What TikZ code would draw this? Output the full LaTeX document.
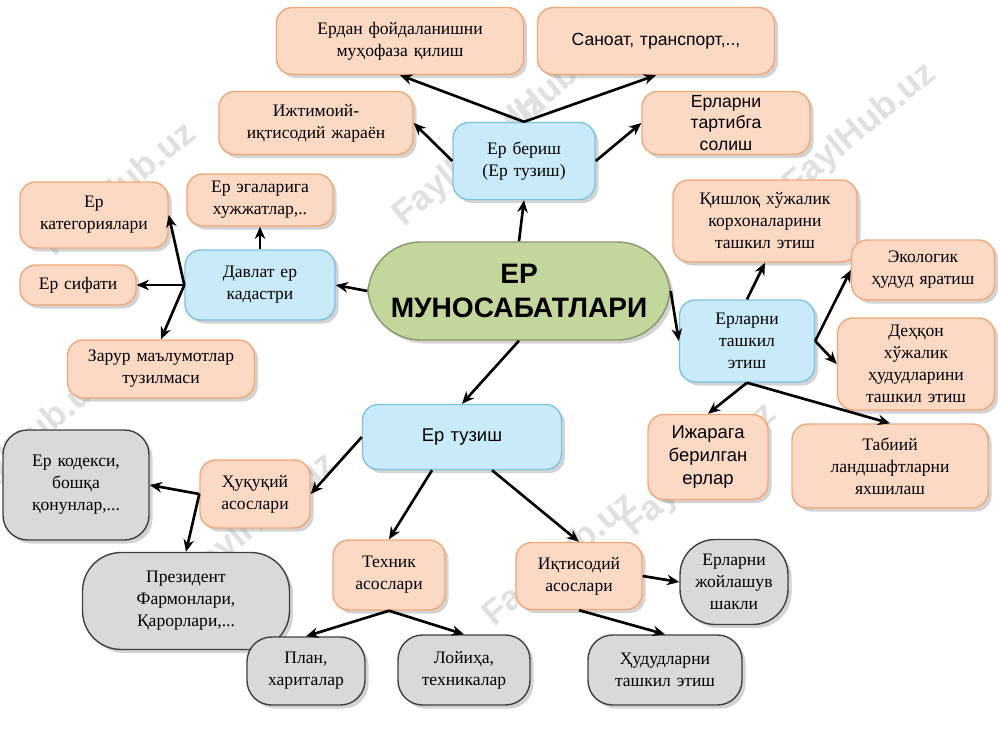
\documentclass[tikz,border=0pt]{standalone}
\usepackage{fontspec}
\setmainfont{Liberation Serif}
\setsansfont{Liberation Sans}
\usetikzlibrary{shadows,arrows.meta}
\definecolor{peach}{HTML}{FCD9C4}
\definecolor{peachd}{HTML}{F0A878}
\definecolor{bluef}{HTML}{C9EAF8}
\definecolor{blued}{HTML}{7CC4E4}
\definecolor{grayf}{HTML}{D9D9D9}
\definecolor{greenf}{HTML}{C3D69B}
\tikzset{
 bx/.style={rounded corners=9pt, align=center, inner sep=1pt, font=\fontsize{10}{12.5}\selectfont,
   drop shadow={shadow xshift=2pt,shadow yshift=-2pt,opacity=0.35}},
 pe/.style={bx, fill=peach, draw=peachd, line width=0.8pt},
 bl/.style={bx, fill=bluef, draw=blued, line width=0.8pt},
 gr/.style={bx, fill=grayf, draw=black!75, line width=0.8pt, rounded corners=14pt},
 ar/.style={-{Stealth[length=7pt,width=6pt]}, line width=1.5pt},
 wm/.style={text=black!12, font=\sffamily\bfseries\fontsize{20}{20}\selectfont, rotate=40}
}
\newcommand{\bxn}[7]{\node[#1, minimum width=#4*0.02cm, minimum height=#5*0.02cm, text width=#4*0.02cm-6pt, #7] (#2) at (#3) {#6};}
\begin{document}
\begin{tikzpicture}[x=0.02cm,y=-0.02cm]
\useasboundingbox (0,0) rectangle (1000,750);
\foreach \p in {(120,190),(470,160),(540,100),(860,130),(30,440),(260,520),(700,470),(560,560)}
  \node[wm] at \p {FaylHub.uz};
\node[bx, fill=greenf, draw=greenf!70!black, line width=0.8pt, rounded corners=30pt, minimum width=302*0.02cm, minimum height=98*0.02cm, font=\sffamily\bfseries\fontsize{16}{19}\selectfont, align=center] (c) at (519,291) {ЕР\\МУНОСАБАТЛАРИ};
\bxn{bl}{eb}{524,161}{142}{77}{Ер бериш\\(Ер тузиш)}{}
\bxn{pe}{a1}{400,41}{247}{67}{Ердан фойдаланишни\\муҳофаза қилиш}{}
\bxn{pe}{a2}{656,41}{237}{67}{Саноат, транспорт,..,}{font=\sffamily\fontsize{10}{12.5}\selectfont}
\bxn{pe}{a3}{316,123}{194}{63}{Ижтимоий-\\иқтисодий жараён}{}
\bxn{pe}{a4}{726,123}{168}{63}{Ерларни\\тартибга\\солиш}{font=\sffamily\fontsize{10}{12}\selectfont}
\bxn{bl}{dk}{260,285}{150}{70}{Давлат ер\\кадастри}{}
\bxn{pe}{d1}{94,215}{148}{66}{Ер\\категориялари}{}
\bxn{pe}{d2}{260,200}{146}{52}{Ер эгаларига\\хужжатлар,..}{}
\bxn{pe}{d3}{78,285}{116}{40}{Ер сифати}{}
\bxn{pe}{d4}{161,369}{187}{58}{Зарур маълумотлар\\тузилмаси}{}
\bxn{bl}{et}{747,341}{135}{82}{Ерларни\\ташкил\\этиш}{}
\bxn{pe}{e1}{765,221}{184}{82}{Қишлоқ хўжалик\\корхоналарини\\ташкил этиш}{}
\bxn{pe}{e2}{923,270}{143}{60}{Экологик\\ҳудуд яратиш}{}
\bxn{pe}{e3}{916,364}{157}{92}{Деҳқон\\хўжалик\\ҳудудларини\\ташкил этиш}{}
\bxn{pe}{e4}{708,457}{120}{85}{Ижарага\\берилган\\ерлар}{font=\sffamily\fontsize{10.5}{13}\selectfont}
\bxn{pe}{e5}{890,466}{196}{84}{Табиий\\ландшафтларни\\яхшилаш}{}
\bxn{bl}{tz}{462,437}{199}{65}{Ер тузиш}{font=\sffamily\fontsize{10.5}{13}\selectfont}
\bxn{pe}{h}{255,494}{110}{68}{Ҳуқуқий\\асослари}{}
\bxn{gr}{h1}{76,485}{146}{110}{Ер кодекси,\\бошқа\\қонунлар,...}{}
\bxn{gr}{h2}{186,601}{207}{97}{Президент\\Фармонлари,\\Қарорлари,...}{rounded corners=22pt}
\bxn{pe}{t}{389,575}{112}{70}{Техник\\асослари}{}
\bxn{pe}{i}{579,576}{126}{67}{Иқтисодий\\асослари}{}
\bxn{gr}{t1}{306,671}{118}{68}{План,\\хариталар}{}
\bxn{gr}{t2}{464,670}{132}{70}{Лойиҳа,\\техникалар}{}
\bxn{gr}{i1}{734,582}{108}{85}{Ерларни\\жойлашув\\шакли}{rounded corners=20pt}
\bxn{gr}{i2}{665,670}{154}{70}{Ҳудудларни\\ташкил этиш}{}
% arrows
\draw[ar] (c.north) -- (eb.south);
\draw[ar] (eb.north) -- (a1.south);
\draw[ar] (eb.north) -- (a2.south);
\draw[ar] (eb.west) -- (a3.east);
\draw[ar] (eb.east) -- (a4.west);
\draw[ar] (c.west) -- (dk.east);
\draw[ar] (dk.west) -- (d1.east);
\draw[ar] (dk.north) -- (d2.south);
\draw[ar] (dk.west) -- (d3.east);
\draw[ar] (dk.west) -- (d4.north);
\draw[ar] (c.east) -- (et.west);
\draw[ar] (et.north) -- (e1.south);
\draw[ar] (et.east) -- (e2.west);
\draw[ar] (et.east) -- (e3.west);
\draw[ar] (et.south) -- (e4.north);
\draw[ar] (et.south) -- (e5.north);
\draw[ar] (c.south) -- (tz.north);
\draw[ar] (tz.west) -- (h.east);
\draw[ar] (h.west) -- (h1.east);
\draw[ar] (h.west) -- (h2.north);
\draw[ar] (tz.south) ++(-30,0) -- (t.north);
\draw[ar] (tz.south) ++(30,0) -- (i.north);
\draw[ar] (t.south) -- (t1.north);
\draw[ar] (t.south) -- (t2.north);
\draw[ar] (i.east) -- (i1.west);
\draw[ar] (i.south) -- (i2.north);
\end{tikzpicture}
\end{document}
